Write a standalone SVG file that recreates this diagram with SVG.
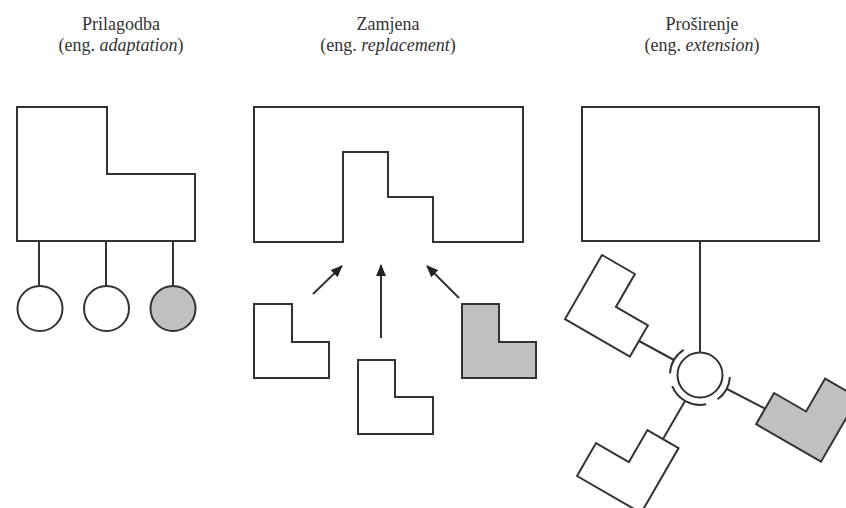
<svg xmlns="http://www.w3.org/2000/svg" width="846" height="508" viewBox="0 0 846 508">
<style>
.s{fill:#fff;stroke:#333;stroke-width:2;stroke-linejoin:miter}
.g{fill:#c0c0c0;stroke:#333;stroke-width:2}
.l{fill:none;stroke:#333;stroke-width:2}
.t{font-family:"Liberation Serif","Times New Roman",serif;font-size:18px;fill:#333;text-anchor:middle}
</style>
<defs>
<marker id="ah" markerWidth="12" markerHeight="10" refX="11" refY="5" orient="auto" markerUnits="userSpaceOnUse">
<path d="M0,0 L12,5 L0,10 Z" fill="#222"/>
</marker>
</defs>
<rect width="846" height="508" fill="#fff"/>
<g id="titles">
<text class="t" x="121" y="30">Prilagodba</text>
<text class="t" x="121" y="51">(eng. <tspan font-style="italic">adaptation</tspan>)</text>
<text class="t" x="388" y="30">Zamjena</text>
<text class="t" x="388" y="51">(eng. <tspan font-style="italic">replacement</tspan>)</text>
<text class="t" x="702" y="30">Proširenje</text>
<text class="t" x="702" y="51">(eng. <tspan font-style="italic">extension</tspan>)</text>
</g>
<g id="connectors">
<line class="l" x1="39" y1="241" x2="39" y2="286"/>
<line class="l" x1="106" y1="241" x2="106" y2="286"/>
<line class="l" x1="173" y1="241" x2="173" y2="286"/>
<line class="l" x1="313" y1="294" x2="342" y2="266" marker-end="url(#ah)"/>
<line class="l" x1="381" y1="338" x2="381" y2="265" marker-end="url(#ah)"/>
<line class="l" x1="459" y1="298" x2="427" y2="266" marker-end="url(#ah)"/>
<line class="l" x1="700" y1="241" x2="700" y2="352.5"/>
<line class="l" x1="639" y1="341" x2="674" y2="360"/>
<line class="l" x1="663" y1="439" x2="685" y2="401"/>
<line class="l" x1="765" y1="408.6" x2="727" y2="389"/>
<path class="l" d="M670,373.4 A30,30 0 0 1 683.7,349.8"/>
<path class="l" d="M706.2,404.3 A30,30 0 0 1 672.2,386.2"/>
<path class="l" d="M729.9,377.1 A30,30 0 0 1 717.6,399.3"/>
</g>
<g id="adapt-main"><polygon class="s" points="17,107 107,107 107,174 195,174 195,241 17,241"/></g>
<g id="adapt-c1"><circle class="s" cx="40" cy="308.5" r="22.5"/></g>
<g id="adapt-c2"><circle class="s" cx="106.5" cy="308.5" r="22.5"/></g>
<g id="adapt-c3"><circle class="g" cx="173" cy="308.5" r="22.5"/></g>
<g id="repl-main"><polygon class="s" points="254,107 523,107 523,242 433,242 433,197 388,197 388,152 343,152 343,242 254,242"/></g>
<g id="repl-l1"><polygon class="s" points="254,304 292,304 292,342 329,342 329,378 254,378"/></g>
<g id="repl-l2"><polygon class="s" points="358,360 395,360 395,397 433,397 433,434 358,434"/></g>
<g id="repl-l3"><polygon class="g" points="462,304 499,304 499,342 536,342 536,378 462,378"/></g>
<g id="ext-main"><rect class="s" x="582" y="107" width="237" height="134"/></g>
<g id="ext-ball"><circle class="s" cx="700" cy="375" r="22.5"/></g>
<g id="ext-l1"><polygon class="s" points="602,255 634.9,274 615.9,306.9 647.9,325.4 629.9,356.6 565,319.1"/></g>
<g id="ext-l2"><polygon class="s" points="577,476 596,443.1 628.9,462.1 647.4,430.1 678.6,448.1 641.1,513"/></g>
<g id="ext-l3"><polygon class="g" points="858,397.6 825.1,378.6 806.1,411.5 774.1,393 756.1,424.2 821,461.7"/></g>
</svg>
